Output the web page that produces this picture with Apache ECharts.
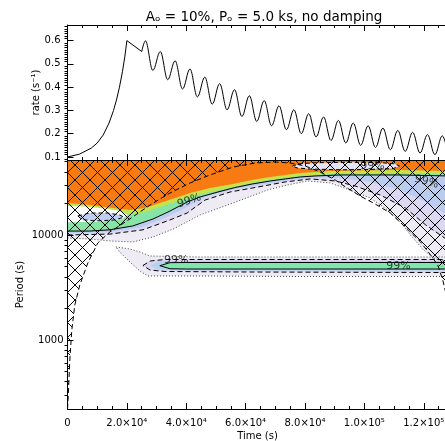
<!DOCTYPE html>
<html>
<head>
<meta charset="utf-8">
<script src="https://cdn.jsdelivr.net/npm/echarts@6/dist/echarts.min.js"></script>
<style>
html, body { margin: 0; padding: 0; background: #fff; }
#chart { width: 445px; height: 441px; }
</style>
</head>
<body>
<div id="chart"></div>
<script>
// light curve: exponential rise to the flare peak, then the 5 ks oscillation
const riseTimes = [0, 4000, 8000, 10000, 12000, 14000, 15500, 16500, 17500, 18500, 19300, 20000, 25000];
const riseRates = [0.100, 0.112, 0.138, 0.160, 0.194, 0.246, 0.300, 0.345, 0.400, 0.466, 0.530, 0.600, 0.553];
const waveTimes = [25000, 26250, 28750, 31250, 33750, 36250, 38750, 41250, 43750, 46250, 48750,
    51250, 53750, 56250, 58750, 61250, 63750, 66250, 68750, 71250, 73750, 76250, 78750, 81250,
    83750, 86250, 88750, 91250, 93750, 96250, 98750, 101250, 103750, 106250, 108750, 111250,
    113750, 116250, 118750, 121250, 123750, 126250, 128000];
const waveRates = [0.553, 0.599, 0.472, 0.553, 0.432, 0.513, 0.392, 0.478, 0.358, 0.443, 0.327,
    0.415, 0.303, 0.389, 0.274, 0.363, 0.253, 0.342, 0.234, 0.320, 0.217, 0.303, 0.200, 0.286,
    0.186, 0.272, 0.171, 0.257, 0.160, 0.246, 0.150, 0.234, 0.141, 0.224, 0.131, 0.214,
    0.124, 0.206, 0.117, 0.196, 0.110, 0.191, 0.125];

// wavelet power contours, [time (s), period (s)]
const orangeEdge = [[0,20200],[7500,19300],[15300,18100],[21000,17300],[26100,18100],[31100,20200],[36300,22500],[41300,25100],[48000,28000],[54800,30300],[62200,33400],[68300,35700],[73300,37300],[78400,38900],[83400,39800],[88500,40700],[98600,41100],[112100,41600],[128000,40700]];
const yellowEdge = [[0,18900],[15300,16900],[21000,15800],[26100,16600],[31100,18500],[36300,20600],[41300,23000],[48000,25700],[54800,28000],[62200,31300],[68300,33400],[73300,34900],[78400,36500],[88500,38100],[112100,38900],[128000,38100]];
const solidEdge = [[0,10900],[7500,10900],[14300,11200],[22000,12200],[28800,14200],[34500,16900],[40300,20600],[44600,23000],[50700,25700],[56400,28300],[62200,30600],[68300,32700],[73300,34200],[78400,35700],[83400,36500],[91900,37300],[102000,37300],[112100,37300],[128000,36500]];
const blueEdge = [[0,10400],[14300,10700],[24400,11700],[32800,14500],[39600,18100],[46300,23000],[54800,26800],[62200,29300],[73300,32700],[81800,35300],[91900,34900],[102000,32000],[112100,26800],[120600,20600],[128000,15500]];
const dashEdge = [[0,10000],[14300,10200],[25400,11200],[34500,13900],[40300,16200],[46300,21500],[54800,25700],[62200,28000],[73300,32000],[81800,34200],[90200,32700],[96900,29300],[105400,24000],[113800,18100],[120600,12500],[128000,8960]];
const dotEdge = [[0,9360],[7500,9160],[14300,8770],[22000,8580],[28800,9570],[35600,11400],[44600,15500],[55800,20200],[67300,26800],[74000,29900],[80700,32700],[88500,31300],[94200,27400],[102000,22500],[108700,16600],[112100,13300],[115500,10000],[119900,7200],[123300,6040],[128000,5530]];

const leftGap = [[0,18900],[5800,18700],[12600,17900],[17600,16900],[20300,15500],[18300,14200],[10900,13400],[0,13200]];
const leftBlob = [[3500,15200],[7500,16200],[13600,16200],[17600,15500],[19000,14800],[16000,13900],[9200,13600],[4800,14050]];
const topBlob = [[75700,45400],[78400,47900],[85100,48900],[95300,49200],[105400,48900],[110400,47500],[111800,45400],[109800,43000],[102000,42100],[91900,41800],[81800,42500],[77400,43500]];

const bandDot = [[16300,7690],[21000,7360],[24400,6890],[27800,6310],[44600,6170],[78400,6170],[128000,6170],[128000,4020],[78400,4020],[44600,4070],[27100,4070],[24400,4540],[21000,5530],[17600,6890]];
const bandDash = [[25400,5120],[27800,5650],[32800,5840],[61500,5840],[128000,5840],[128000,4390],[61500,4440],[32800,4490],[27800,4640]];
const bandBlue = [[27800,5120],[30500,5590],[36300,5650],[128000,5650],[128000,4590],[36300,4610],[30500,4690]];
const bandSolid = [[31100,5100],[34500,5450],[40000,5470],[128000,5470],[128000,4740],[40000,4740],[34500,4770]];

// cone of influence
const coiEdge = [[0,220],[270,299],[780,645],[1450,1245],[2460,2150],[4150,3340],[6850,5410],[10200,8390],[14300,10700],[20000,13600],[27800,19300],[34500,25100],[41300,31300],[48000,37300],[55800,44400],[63200,48500],[69900,49600],[75000,48500],[80100,45400],[85100,39800],[90200,33400],[93600,28700],[98600,23500],[103700,19700],[108700,16200],[113800,11900],[118900,8580],[122300,6450],[124700,5180],[126400,3730],[128000,2400]];

const sigLabelPoints = [[41000,21100],[36600,5780],[111500,5020],[102700,45400],[120900,32000]];
const sigLabelTilt = [18, 0, 0, 0, -15];

const timeTicks = [0, 20000, 40000, 60000, 80000, 100000, 120000];
const timeMinorTicks = [5000,10000,15000,25000,30000,35000,45000,50000,55000,65000,70000,75000,85000,90000,95000,105000,110000,115000,125000];
const rateTicks = [0.1, 0.2, 0.3, 0.4, 0.5, 0.6];
const periodTicks = [1000, 10000];
const periodMinorTicks = [300,400,500,600,700,800,900,2000,3000,4000,5000,6000,7000,8000,9000,20000,30000,40000,50000];

const T_MAX = 128000;
const P_MIN = 220, P_MAX = 51800;
const FONT = 'DejaVu Sans';

const rateMinorTicks = [];
for (let i = 9; i <= 66; i++) {
    if (i % 10 !== 0) rateMinorTicks.push(i / 100);
}

const hatch = document.createElement('canvas');
hatch.width = 15;
hatch.height = 15;
const hctx = hatch.getContext('2d');
hctx.strokeStyle = '#000';
hctx.lineWidth = 1;
hctx.beginPath();
hctx.moveTo(-1, -1); hctx.lineTo(16, 16);
hctx.moveTo(16, -1); hctx.lineTo(-1, 16);
hctx.stroke();

const topEdge = [[T_MAX, P_MAX], [0, P_MAX]];

function timeLabel(v) {
    if (v === 0) return '0';
    const e = Math.floor(Math.log10(v) + 1e-9);
    const sup = {4: '⁴', 5: '⁵'};
    return (v / Math.pow(10, e)).toFixed(1) + '×10' + sup[e];
}

function area(poly, fill, z) {
    return {
        type: 'custom', xAxisIndex: 4, yAxisIndex: 2, z: z, silent: true,
        data: [poly[0]],
        renderItem: (params, api) => ({
            type: 'polygon',
            shape: {points: poly.map(p => api.coord(p))},
            style: {fill: fill, stroke: null},
        }),
    };
}

function contour(pts, dash, closed, color) {
    return {
        type: 'line', xAxisIndex: 4, yAxisIndex: 2, z: 6, silent: true,
        data: closed ? pts.concat([pts[0]]) : pts,
        symbol: 'none',
        lineStyle: {color: color || '#000', width: 1, type: dash},
    };
}

function xAxes(grid, labels) {
    const base = {
        gridIndex: grid, type: 'value', min: 0, max: T_MAX, z: 10,
        splitLine: {show: false},
        axisLine: {onZero: false, lineStyle: {color: '#000', width: 1}},
    };
    return [
        Object.assign({}, base, {
            position: 'bottom',
            axisTick: {inside: true, length: 6, customValues: timeTicks, lineStyle: {color: '#000'}},
            axisLabel: labels ? {customValues: timeTicks, formatter: timeLabel, color: '#000',
                fontFamily: FONT, fontSize: 10, margin: 9} : {show: false},
            name: labels ? 'Time (s)' : '', nameLocation: 'middle', nameGap: 22,
            nameMoveOverlap: false,
            nameTextStyle: {color: '#000', fontFamily: FONT, fontSize: 10},
        }),
        Object.assign({}, base, {
            position: 'bottom', axisLine: {show: false},
            axisTick: {inside: true, length: 3, customValues: timeMinorTicks, lineStyle: {color: '#000'}},
            axisLabel: {show: false},
        }),
        Object.assign({}, base, {
            position: 'top',
            axisTick: {inside: true, length: 6, customValues: timeTicks, lineStyle: {color: '#000'}},
            axisLabel: {show: false},
        }),
        Object.assign({}, base, {
            position: 'top', axisLine: {show: false},
            axisTick: {inside: true, length: 3, customValues: timeMinorTicks, lineStyle: {color: '#000'}},
            axisLabel: {show: false},
        }),
    ];
}

const option = {
    animation: false,
    title: {
        text: 'Aₒ = 10%, Pₒ = 5.0 ks, no damping',
        left: 259, top: 5, textAlign: 'center',
        textStyle: {fontFamily: FONT, fontSize: 13.5, fontWeight: 'normal', color: '#000'},
    },
    grid: [
        {left: 67.5, top: 25, right: -2.5, height: 135, outerBoundsMode: 'none'},
        {left: 67.5, top: 160, right: -2.5, height: 249, outerBoundsMode: 'none'},
    ],
    xAxis: xAxes(0, false).concat(xAxes(1, true)),
    yAxis: [
        {
            gridIndex: 0, type: 'value', min: 0.087, max: 0.667, z: 10,
            splitLine: {show: false},
            axisLine: {show: true, onZero: false, lineStyle: {color: '#000'}},
            axisTick: {inside: true, length: 6, customValues: rateTicks, lineStyle: {color: '#000'}},
            axisLabel: {customValues: rateTicks, formatter: v => v.toFixed(1), color: '#000',
                fontFamily: FONT, fontSize: 10, margin: 7},
            name: 'rate (s⁻¹)', nameLocation: 'middle', nameGap: 26, nameMoveOverlap: false,
            nameTextStyle: {color: '#000', fontFamily: FONT, fontSize: 10},
        },
        {
            gridIndex: 0, type: 'value', min: 0.087, max: 0.667, z: 10,
            splitLine: {show: false}, axisLine: {show: false},
            axisTick: {inside: true, length: 3, customValues: rateMinorTicks, lineStyle: {color: '#000'}},
            axisLabel: {show: false},
        },
        {
            gridIndex: 1, type: 'log', min: P_MIN, max: P_MAX, z: 10,
            splitLine: {show: false},
            axisLine: {show: true, onZero: false, lineStyle: {color: '#000'}},
            axisTick: {inside: true, length: 6, customValues: periodTicks, lineStyle: {color: '#000'}},
            axisLabel: {customValues: periodTicks, formatter: v => String(Math.round(v)), color: '#000',
                fontFamily: FONT, fontSize: 10, margin: 4},
            name: 'Period (s)', nameLocation: 'middle', nameGap: 42, nameMoveOverlap: false,
            nameTextStyle: {color: '#000', fontFamily: FONT, fontSize: 10},
        },
        {
            gridIndex: 1, type: 'log', min: P_MIN, max: P_MAX, z: 10,
            splitLine: {show: false}, axisLine: {show: false},
            axisTick: {inside: true, length: 3, customValues: periodMinorTicks, lineStyle: {color: '#000'}},
            axisLabel: {show: false},
        },
    ],
    series: [
        {
            type: 'line', xAxisIndex: 0, yAxisIndex: 0, symbol: 'none', silent: true,
            data: riseTimes.map((t, i) => [t, riseRates[i]]),
            lineStyle: {color: '#000', width: 1},
        },
        {
            type: 'line', xAxisIndex: 0, yAxisIndex: 0, symbol: 'none', silent: true,
            smooth: 0.37, smoothMonotone: 'x',
            data: waveTimes.map((t, i) => [t, waveRates[i]]),
            lineStyle: {color: '#000', width: 1},
        },
        area(dotEdge.concat(topEdge), '#EEEBF4', 1),
        area(dashEdge.concat(topEdge), '#DCD8F1', 1),
        area(blueEdge.concat(topEdge), '#BACDEF', 1),
        area(solidEdge.concat(topEdge), '#86E5A4', 1),
        area(yellowEdge.concat(topEdge), '#C6E24C', 1),
        area(orangeEdge.concat(topEdge), '#F87A12', 1),
        area(leftGap, '#FFFFFF', 2),
        area(leftBlob, '#BFCDF0', 2),
        area(topBlob, '#E2E5F6', 2),
        area(bandDot, '#EEEBF4', 2),
        area(bandDash, '#D8D6F1', 2),
        area(bandBlue, '#B7D2EE', 2),
        area(bandSolid, '#80E6AE', 2),
        area(coiEdge.concat(topEdge), {image: hatch, repeat: 'repeat'}, 4),
        contour(dotEdge, [1, 2], false, '#444'),
        contour(dashEdge, [5, 3], false),
        contour(solidEdge, 'solid', false),
        contour(leftBlob, [4, 3], true),
        contour(topBlob, [4, 3], true),
        contour(bandDot, [1, 2], true, '#444'),
        contour(bandDash, [5, 3], true),
        contour(bandSolid, 'solid', true),
        contour(coiEdge, [5, 3], false),
        {
            type: 'scatter', xAxisIndex: 4, yAxisIndex: 2, z: 7, silent: true, symbolSize: 0,
            data: sigLabelPoints.map((p, i) => ({value: p, label: {rotate: sigLabelTilt[i]}})),
            label: {show: true, position: 'inside', formatter: '99%', color: '#111',
                fontFamily: FONT, fontSize: 11},
        },
    ],
};

const chart = echarts.init(document.getElementById('chart'));
chart.setOption(option);
</script>
</body>
</html>
